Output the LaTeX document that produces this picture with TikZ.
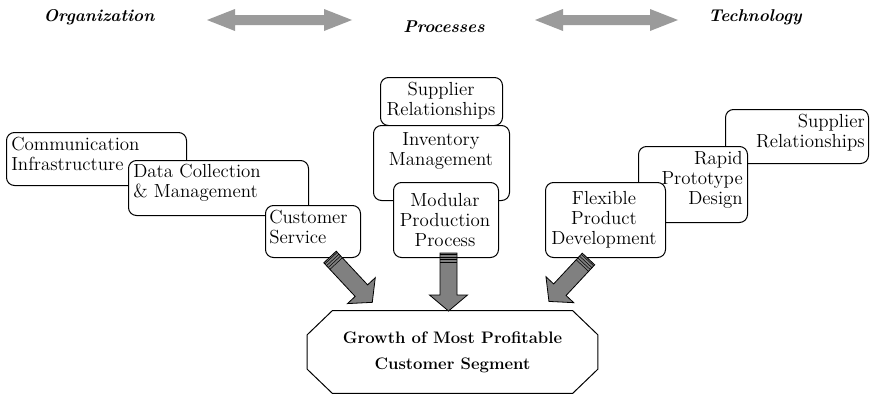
\documentclass[tikz,border=0pt]{standalone}
\usepackage{fontspec}
\usetikzlibrary{calc}

\definecolor{hdrgray}{RGB}{155,155,155}
\definecolor{arrowgray}{RGB}{128,128,128}

\tikzset{
  panel/.style={draw, fill=white, rounded corners=6pt, line width=0.75pt, inner sep=0pt, anchor=north west},
  boxtext/.style={font=\fontsize{14.2}{15}\selectfont, inner sep=0pt},
  hdr/.style={font=\fontsize{12.8}{14}\selectfont\bfseries\itshape, inner sep=0pt},
  fatarrow/.style={draw, fill=arrowgray, line width=0.6pt, line join=miter}
}

% double headed arrow between two points
\newcommand\dblarrow[2]{%
  \fill[hdrgray] (#1) -- ($(#1)+(28,-11)$) -- ($(#1)+(28,-5)$) -- ($(#2)+(-28,-5)$)
    -- ($(#2)+(-28,-11)$) -- (#2) -- ($(#2)+(-28,11)$) -- ($(#2)+(-28,5)$)
    -- ($(#1)+(28,5)$) -- ($(#1)+(28,11)$) -- cycle;}

% fat arrow: tail, angle, length
\newcommand\fatarrow[3]{%
  \begin{scope}[shift={(#1)},rotate=#2]
    \draw[fatarrow] (0,-8.5) -- (#3-16,-8.5) -- (#3-16,-19) -- (#3,0)
      -- (#3-16,19) -- (#3-16,8.5) -- (0,8.5) -- cycle;
    \foreach \s in {1.5,4,6.5,9}
      \draw[line width=0.4pt] (\s,-8.5) -- (\s,8.5);
  \end{scope}}

\begin{document}
\begin{tikzpicture}[x=0.75pt,y=-0.75pt]

\useasboundingbox (0,0) rectangle (874,396);

% header
\node[hdr] (orgLabel) at (99,17) {Organization};
\node[hdr] (procLabel) at (444,27) {Processes};
\node[hdr] (techLabel) at (755,17) {Technology};

\coordinate (orgR) at (207,20);
\coordinate (procL) at (352,20);
\coordinate (procR) at (535,20);
\coordinate (techL) at (678,20);

\dblarrow{orgR}{procL}
\dblarrow{procR}{techL}

% organization boxes
\node[panel, minimum width=135pt, minimum height=39.75pt] (commBox) at (6,132) {};
\node[boxtext, align=left, anchor=west] (commText) at (11,154) {Communication\\Infrastructure};

\node[panel, minimum width=135pt, minimum height=41.25pt] (dataBox) at (128,160) {};
\node[boxtext, align=left, anchor=west] (dataText) at (133,183) {Data Collection\\\& Management};

\node[panel, minimum width=71.25pt, minimum height=39pt] (custBox) at (265,205) {};
\node[boxtext, align=left, anchor=west] (custText) at (269,227) {Customer\\Service};

% process boxes
\node[panel, minimum width=91.5pt, minimum height=36pt] (suppMidBox) at (380,77) {};
\node[boxtext, align=center] (suppMidText) at (441,101) {Supplier\\Relationships};

\node[panel, minimum width=102pt, minimum height=56.25pt] (invBox) at (373,125) {};
\node[boxtext, align=center] (invText) at (441,151) {Inventory\\Management};

\node[panel, minimum width=78.75pt, minimum height=56.25pt] (modBox) at (393,182) {};
\node[boxtext, align=center] (modText) at (445,220) {Modular\\Production\\Process};

% technology boxes
\node[panel, minimum width=107.25pt, minimum height=40.5pt] (suppRightBox) at (725,109) {};
\node[boxtext, align=right, anchor=east] (suppRightText) at (865,133) {Supplier\\Relationships};

\node[panel, minimum width=81.75pt, minimum height=57pt] (rapidBox) at (638,146) {};
\node[boxtext, align=right, anchor=east] (rapidText) at (743,180) {Rapid\\Prototype\\Design};

\node[panel, minimum width=90pt, minimum height=56.25pt] (flexBox) at (545,182) {};
\node[boxtext, align=center] (flexText) at (604,220) {Flexible\\Product\\Development};

% goal
\node[font=\fontsize{12.5}{19.5}\selectfont\bfseries, align=center, minimum width=217.5pt, minimum height=61.5pt] (goal) at (452.5,352) {Growth of Most Profitable\\Customer Segment};
\draw[line width=0.75pt]
([xshift=18.75pt]goal.north west)
--
([xshift=-18.75pt]goal.north east)
--
([yshift=-18pt]goal.north east)
--
([yshift=18pt]goal.south east)
--
([xshift=-18.75pt]goal.south east)
--
([xshift=18.75pt]goal.south west)
--
([yshift=18pt]goal.south west)
--
([yshift=-18pt]goal.north west)
--
cycle;

% arrows into goal
\coordinate (custTail) at (330,257);
\coordinate (modTail) at (448.5,253);
\coordinate (flexTail) at (588.5,259);

\fatarrow{custTail}{-47}{62}
\fatarrow{modTail}{-90}{58}
\fatarrow{flexTail}{-133}{58}

\end{tikzpicture}
\end{document}
